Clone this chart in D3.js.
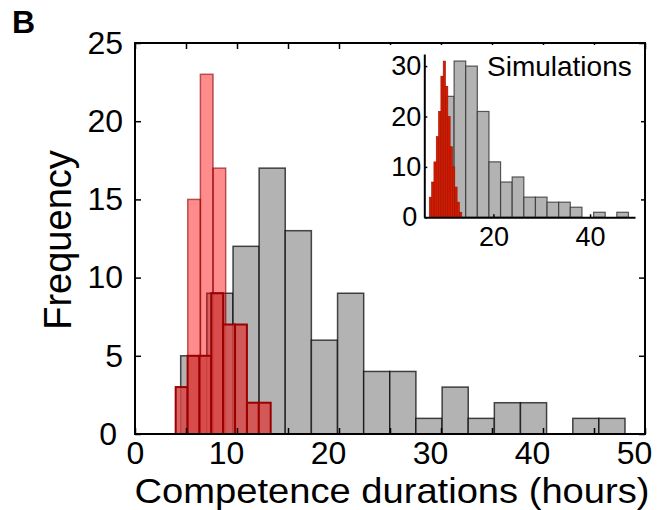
<!DOCTYPE html>
<html>
<head>
<meta charset="utf-8">
<script src="https://cdn.jsdelivr.net/npm/d3@7"></script>
<style>
body { margin: 0; background: #fff; }
</style>
</head>
<body>
<script>
const font = "'Liberation Sans', Arial, sans-serif";

// main panel: measured competence durations (hours), bin centres + counts
const grayCenters = [5.76, 8.32, 10.89, 13.45, 16.01, 18.57, 21.14, 23.70, 26.26, 28.82, 31.39, 33.95, 36.51, 39.07, 41.64, 44.20, 46.76];
const grayCounts = [5, 9, 12, 17, 13, 6, 9, 4, 4, 1, 3, 1, 2, 2, 0, 1, 1];
const grayWidth = 2.562;

const redLightCenters = [5.79, 7.03, 8.27];
const redLightCounts = [15, 23, 17];
const redLightWidth = 1.24;

const redDarkCenters = [4.57, 5.74, 6.90, 8.06, 9.23, 10.39, 11.56, 12.72];
const redDarkCounts = [3, 5, 5, 9, 7, 7, 2, 2];
const redDarkWidth = 1.164;

// inset: simulations
const simGrayCenters = [10.66, 13.07, 15.47, 17.88, 20.28, 22.69, 25.09, 27.50, 29.90, 32.31, 34.71, 37.12, 39.52, 41.93, 44.33, 46.74];
const simGrayCounts = [24, 31, 30, 21, 11, 7, 8, 4, 4, 3, 3, 2, 0, 1, 0, 1];
const simGrayWidth = 2.405;

const simRedCenters = [6.97, 7.45, 7.93, 8.41, 8.89, 9.37, 9.85, 10.33, 10.81, 11.29, 11.77, 12.25, 12.73, 13.21];
const simRedCounts = [4, 7, 11, 16, 21, 28, 31, 26, 20, 14, 10, 6, 3, 1];
const simRedWidth = 0.48;

const xTicks = [0, 5, 10, 15, 20, 25, 30, 35, 40, 45, 50];
const xLabels = [0, 10, 20, 30, 40, 50];
const yTicks = [0, 5, 10, 15, 20, 25];
const insetXTicks = [20, 40];
const insetYTicks = [0, 10, 20, 30];

const frame = {left: 135, right: 645, top: 43, bottom: 434};
const inset = {left: 424.3, right: 635, top: 54, bottom: 217.3};

const svg = d3.select("body").append("svg")
    .attr("width", 659)
    .attr("height", 510);

const x = d3.scaleLinear().domain([0, 50]).range([frame.left, frame.right]);
const y = d3.scaleLinear().domain([0, 25]).range([frame.bottom, frame.top]);

const bins = (centers, counts) => centers
    .map((c, i) => ({c: c, n: counts[i]}))
    .filter(d => d.n > 0);

function drawBars(parent, data, w, xs, ys) {
    return parent.append("g")
        .selectAll("rect")
        .data(data)
        .join("rect")
        .attr("x", d => xs(d.c - w / 2))
        .attr("y", d => ys(d.n))
        .attr("width", d => xs(d.c + w / 2) - xs(d.c - w / 2))
        .attr("height", d => ys(0) - ys(d.n));
}

drawBars(svg, bins(grayCenters, grayCounts), grayWidth, x, y)
    .attr("fill", "#b3b3b3")
    .attr("stroke", "#000")
    .attr("stroke-opacity", 0.7)
    .attr("stroke-width", 1.5);

drawBars(svg, bins(redLightCenters, redLightCounts), redLightWidth, x, y)
    .attr("fill", "#ff0000")
    .attr("fill-opacity", 0.45)
    .attr("stroke", "#8b0000")
    .attr("stroke-opacity", 0.6)
    .attr("stroke-width", 1.5);

drawBars(svg, bins(redDarkCenters, redDarkCounts), redDarkWidth, x, y)
    .attr("fill", "rgb(216,73,73)")
    .attr("fill-opacity", 0.85)
    .attr("stroke", "#990000")
    .attr("stroke-width", 2);

// axes, ticks pointing inwards like matlab
function styleAxis(g) {
    g.attr("font-size", 32).attr("font-family", font);
    g.select(".domain").remove();
    g.selectAll(".tick line").attr("stroke", "#000").attr("stroke-width", 1.5);
    g.selectAll(".tick text").attr("fill", "#000");
}

const xAxisG = svg.append("g")
    .attr("transform", `translate(0,${frame.bottom})`)
    .call(d3.axisBottom(x).tickValues(xTicks).tickSizeInner(-6).tickSizeOuter(0).tickPadding(7)
        .tickFormat(d => xLabels.includes(d) ? d : ""))
    .call(styleAxis);
// unlabelled ticks keep no empty text nodes
xAxisG.selectAll(".tick text").filter(d => !xLabels.includes(d)).remove();
xAxisG.selectAll(".tick text").attr("dx", d => d === 0 ? 0 : -11);

svg.append("g")
    .attr("transform", `translate(${frame.left},0)`)
    .call(d3.axisLeft(y).tickValues(yTicks).tickSizeInner(-6).tickSizeOuter(0).tickPadding(12))
    .call(styleAxis)
    .selectAll(".tick text")
    .attr("dx", d => d === 0 ? -6 : 0);

svg.append("g")
    .attr("transform", `translate(0,${frame.top})`)
    .call(d3.axisTop(x).tickValues(xTicks).tickSizeInner(-6).tickSizeOuter(0).tickFormat(""))
    .call(styleAxis)
    .selectAll(".tick text").remove();

svg.append("g")
    .attr("transform", `translate(${frame.right},0)`)
    .call(d3.axisRight(y).tickValues(yTicks).tickSizeInner(-6).tickSizeOuter(0).tickFormat(""))
    .call(styleAxis)
    .selectAll(".tick text").remove();

svg.append("rect")
    .attr("x", frame.left)
    .attr("y", frame.top)
    .attr("width", frame.right - frame.left)
    .attr("height", frame.bottom - frame.top)
    .attr("fill", "none")
    .attr("stroke", "#000")
    .attr("stroke-width", 2);

svg.append("text")
    .attr("x", 392)
    .attr("y", 502.5)
    .attr("font-family", font)
    .attr("font-size", 35)
    .attr("textLength", 515)
    .attr("lengthAdjust", "spacingAndGlyphs")
    .style("text-anchor", "middle")
    .text("Competence durations (hours)");

svg.append("text")
    .attr("transform", "translate(71,240) rotate(-90)")
    .attr("font-family", font)
    .attr("font-size", 38)
    .style("text-anchor", "middle")
    .text("Frequency");

svg.append("text")
    .attr("x", 12)
    .attr("y", 33)
    .attr("font-family", font)
    .attr("font-size", 32)
    .attr("font-weight", "bold")
    .text("B");

// inset
svg.append("rect")
    .attr("x", 385)
    .attr("y", 45)
    .attr("width", 256)
    .attr("height", 185)
    .attr("fill", "#fff");

const ix = d3.scaleLinear().domain([5.7, 49.3]).range([inset.left, inset.right]);
const iy = d3.scaleLinear().domain([0, 32.4]).range([inset.bottom, inset.top]);

drawBars(svg, bins(simGrayCenters, simGrayCounts), simGrayWidth, ix, iy)
    .attr("fill", "#b3b3b3")
    .attr("stroke", "#333")
    .attr("stroke-opacity", 0.8)
    .attr("stroke-width", 1.2);

drawBars(svg, bins(simRedCenters, simRedCounts), simRedWidth, ix, iy)
    .attr("fill", "#d41c00")
    .attr("stroke", "#a01000")
    .attr("stroke-width", 0.6);

function styleInset(g) {
    g.attr("font-size", 27).attr("font-family", font);
    g.select(".domain").attr("stroke", "#000").attr("stroke-width", 2);
    g.selectAll(".tick line").attr("stroke", "#000").attr("stroke-width", 1.5);
    g.selectAll(".tick text").attr("fill", "#000");
}

svg.append("g")
    .attr("transform", `translate(0,${inset.bottom})`)
    .call(d3.axisBottom(ix).tickValues(insetXTicks).tickSizeInner(-3).tickSizeOuter(0).tickPadding(10))
    .call(styleInset);

svg.append("g")
    .attr("transform", `translate(${inset.left},0)`)
    .call(d3.axisLeft(iy).tickValues(insetYTicks).tickSizeInner(-3).tickSizeOuter(0).tickPadding(3))
    .call(styleInset)
    .selectAll(".tick text")
    .attr("dx", d => d === 0 ? -4 : 0);

svg.append("text")
    .attr("x", 487)
    .attr("y", 76)
    .attr("font-family", font)
    .attr("font-size", 28)
    .text("Simulations");
</script>
</body>
</html>
